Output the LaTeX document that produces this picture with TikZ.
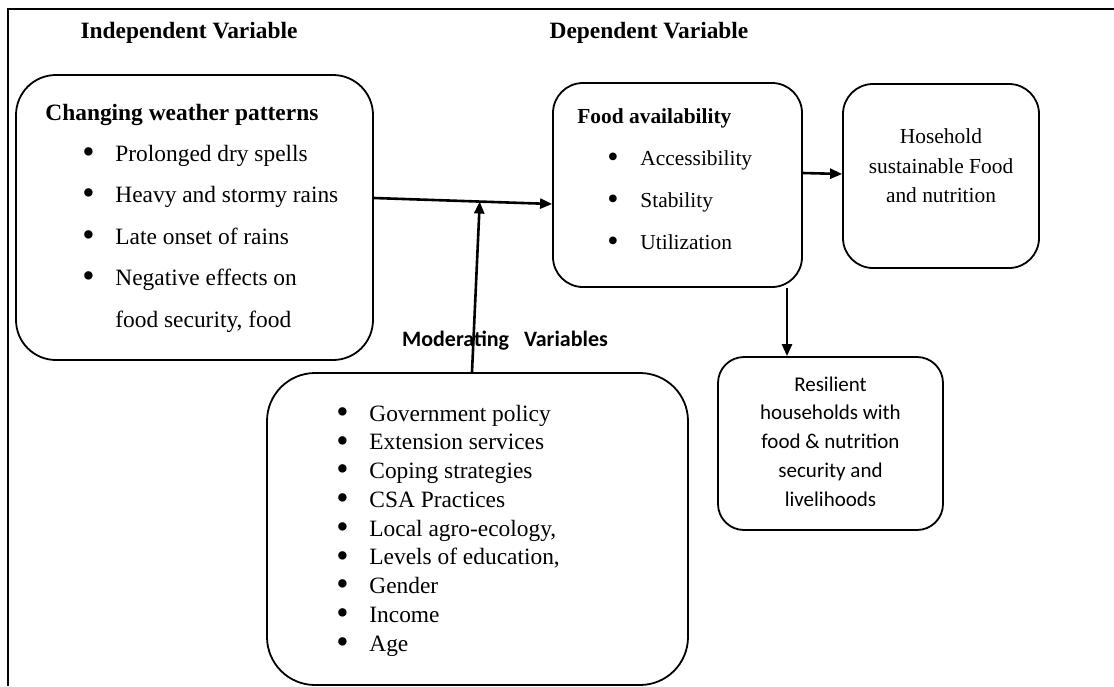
\documentclass[tikz,border=0pt]{standalone}
\usepackage{fontspec}
\setmainfont{Liberation Serif}
\setsansfont{Carlito}
\usetikzlibrary{arrows.meta}
\newcommand{\bul}{\makebox[16.5pt][l]{\raisebox{-0.1em}{\scalebox{1.5}{\textbullet}}}}
\tikzset{
  box/.style  ={draw, line width=0.9pt, rounded corners=15pt, inner sep=0pt},
  head/.style ={font=\bfseries\fontsize{11.7}{14}\selectfont, inner sep=0pt},
  headS/.style={head, font=\bfseries\fontsize{10.7}{13}\selectfont},
  itm/.style  ={font=\fontsize{11.7}{14}\selectfont, anchor=base west,
                inner sep=0pt},
  itmT/.style ={itm, text height=8.5pt, text depth=2.5pt},
  itmS/.style ={itm, font=\fontsize{10.7}{13}\selectfont},
  note/.style ={align=center, inner sep=0pt},
  arr/.style  ={-{Triangle[length=6pt, width=5pt]}, line width=1.3pt},
}
\begin{document}
\begin{tikzpicture}[x=0.5pt, y=-0.5pt]
\useasboundingbox (0,0) rectangle (1114,686);
\draw[line width=0.6pt] (1114,9) -- (8,9) -- (8,686);

% headings
\node[head] (indep) at (189,33) {Independent Variable};
\node[head] (dep) at (649,33) {Dependent Variable};

% boxes
\node[box, rounded corners=20pt, minimum width=178.5pt, minimum height=142.5pt]
  (weather) at (194.5,217.5) {};
\node[box, minimum width=124.5pt, minimum height=102pt] (food) at (677.5,185) {};
\node[box, minimum width=98pt, minimum height=92pt] (house) at (941,176) {};
\node[box, rounded corners=13pt, minimum width=112.5pt, minimum height=86.5pt]
  (resil) at (830.5,443.5) {};
\node[box, rounded corners=24pt, minimum width=210.5pt, minimum height=156pt]
  (moder) at (477.5,529) {};

% independent variable
\node[head, anchor=base west] (wtitle) at (45,120) {Changing weather patterns};
\foreach \t [count=\i] in {Prolonged dry spells, Heavy and stormy rains,
                           Late onset of rains, Negative effects on}
  \node[itm] (w\i) at (82, {161+41.5*(\i-1)}) {\bul\t};
\node[itm] (w5) at (115,327) {food security, food};

% dependent variable
\node[headS, anchor=base west] (ftitle) at (577,123) {Food availability};
\foreach \t [count=\i] in {Accessibility, Stability, Utilization}
  \node[itmS] (f\i) at (607, {165+42*(\i-1)}) {\bul\t};

\node[note, font=\fontsize{10.7}{14.75}\selectfont] (houseT) at (941,166)
  {Hosehold\\ sustainable Food\\ and nutrition};
\node[note, font=\sffamily\fontsize{10.5}{14.4}\selectfont] (resilT) at (830.5,441.5)
  {Resilient\\ households with\\ food \& nutrition\\ security and\\ livelihoods};

% moderating variables
\node[font=\sffamily\bfseries\fontsize{11}{13}\selectfont, inner sep=0pt]
  (modlabel) at (505,341) {Moderating\ \ \ Variables};
\foreach \t [count=\i] in {Government policy, Extension services,
                           Coping strategies, CSA Practices,
                           {Local agro-ecology,}, {Levels of education,},
                           Gender, Income, Age}
  \node[itmT] (m\i) at (336, {421+28.75*(\i-1)}) {\bul\t};

% connectors
\draw[arr] ([yshift=9.75pt]weather.east) -- coordinate[pos=0.594] (meet)
  ([yshift=-9.5pt]food.west);
\draw[arr] ([xshift=-2.75pt]moder.north) -- (meet);
\draw[arr] ([yshift=6pt]food.east) -- ([yshift=1pt]house.west);
\draw[arr] ([xshift=54.75pt]food.south) -- ([xshift=-21.75pt]resil.north);

\end{tikzpicture}
\end{document}
